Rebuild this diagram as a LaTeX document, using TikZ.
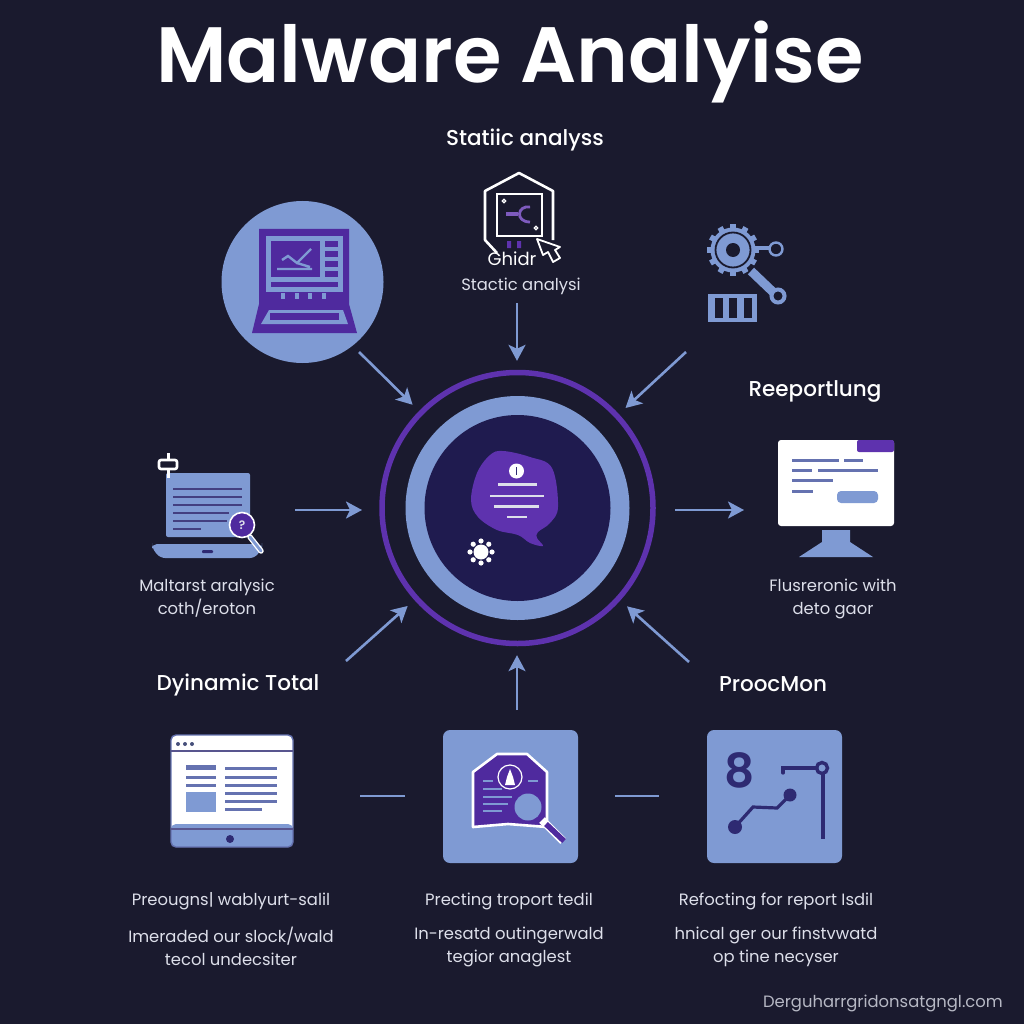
\documentclass[tikz,border=0pt]{standalone}
\usepackage{fontspec}
\setmainfont{Poppins}
\newfontfamily\headfont{Poppins Medium}
\newfontfamily\titlefont{Poppins SemiBold}
\usetikzlibrary{arrows.meta}
\definecolor{bgdark}{HTML}{1A1A2E}
\definecolor{iconblue}{HTML}{7F9AD3}
\definecolor{iconpurple}{HTML}{4F2A9E}
\definecolor{ringpurple}{HTML}{5E32AE}
\definecolor{hubnavy}{HTML}{1F1B4F}
\definecolor{inkblue}{HTML}{2E2A72}
\definecolor{linegrey}{HTML}{6572B0}
\definecolor{softwhite}{HTML}{DDDFEA}
\tikzset{
	flow/.style = {draw=iconblue, line width=2.6pt, -{Stealth[length=16pt,width=17pt,inset=4pt]}},
	link/.style = {draw=iconblue, line width=2.6pt},
	heading/.style = {text=white, font=\headfont\fontsize{21.5}{24}\selectfont, inner sep=0pt, yshift=-1.5pt},
	caption/.style = {text=softwhite, font=\fontsize{16.4}{23}\selectfont, align=center, inner sep=0pt, yshift=-1.5pt},
	card/.style = {fill=iconblue, rounded corners=7pt, minimum width=135pt, minimum height=133pt, inner sep=0pt},
	rule/.style = {line width=3pt, draw=#1},
	rule/.default = linegrey
}
\begin{document}
\begin{tikzpicture}[x=1pt,y=-1pt]
				\useasboundingbox (0,0) rectangle (1024,1024);
				\fill[bgdark] (0,0) rectangle (1024,1024);
				\node (title) [text=white, font=\titlefont\fontsize{78.5}{90}\selectfont, inner sep=0pt] at (510,62){Malware Analyise};
				\node (statichead) [heading] at (525,139){Statiic analyss};
				\node (reporthead) [heading] at (815,390){Reeportlung};
				\node (dynamichead) [heading] at (238,683){Dyinamic Total};
				\node (procmonhead) [heading] at (773,682.5){ProocMon};
				%
				% hub in the middle
				\node (hub) [circle, minimum size=294pt, inner sep=0pt] at (517.5,508){};
				\draw[ringpurple, line width=5.5pt] (hub.center) circle (135.5);
				\fill[iconblue] (hub.center) circle (112);
				\fill[hubnavy] (hub.center) circle (93);
				\fill[ringpurple] plot[smooth cycle, tension=0.6] coordinates {(503,451) (530,457) (552,468) (558,507) (550,523) (538,532) (537,538) (543,546) (530,543) (518,535) (497,530) (478,517) (471,500) (477,473) (490,455)};
				\fill[white] (516.5,471) circle (7.5);
				\draw[inkblue, line width=1.8pt] (516.5,467) -- ++(0,8);
				\draw[softwhite, line width=2.2pt] (498,484.5) -- (537,484.5) (490,496) -- (544,496) (494,506.5) -- (539,506.5) (507,517) -- (527,517);
				\fill[white] (481,552) circle (7.5);
				\foreach \ang in {0,45,...,315}
					\fill[white] (481,552) ++(\ang:11) circle (2.6);
				%
				% laptop on the circle
				\node (laptopdisc) [circle, fill=iconblue, minimum size=162pt, inner sep=0pt] at (302.5,282){};
				\fill[iconpurple] (259,229) -- (349,229) -- (349,304) -- (357,333) -- (252,333) -- (259,304) -- cycle;
				\fill[iconblue] (266,236) rectangle (343,292);
				\fill[iconpurple] (271,241) rectangle (320,277);
				\foreach \rowy in {241,251,261,271}
					\fill[iconpurple] (325,\rowy) rectangle ++(13,6);
				\fill[iconpurple] (271,282) rectangle (338,287);
				\foreach \pipx in {283,297,310,324}
					\fill[iconblue] (\pipx-2.2,293) rectangle ++(4.5,6);
				\fill[iconblue] (269,310) -- (343,310) -- (348,324) -- (261,324) -- cycle;
				\fill[iconpurple] (270,313) rectangle (339,320);
				\draw[iconblue, line width=2.4pt] (277,269) -- (312,269) (311,249) -- (297,263) -- (288,256) -- (282,260) (297,263) -- (310,267);
				%
				% hexagon with chip
				\draw[white, line width=2.6pt, line join=round] (497,253) -- (485,240) -- (485,191) -- (519,173) -- (553,191) -- (553,240);
				\draw[white, line width=2.2pt] (497,194) rectangle (542,236);
				\draw[white, line width=1.2pt] (504,201) circle (1.8) (536,228) circle (1.8);
				\draw[ringpurple!80!white, line width=2.8pt] (530,207) .. controls (517,205) and (515,222) .. (530,222);
				\draw[ringpurple!80!white, line width=3.8pt] (506,214) -- (518,214);
				\fill[ringpurple] (507,241) rectangle ++(4,7) (517,241) rectangle ++(4,7);
				\draw[white, fill=bgdark, line width=1.8pt, line join=round] (537,239) -- (543,255) -- (548,252) -- (553,262) -- (560,258) -- (555,250) -- (560,247) -- cycle;
				\node (ghidra) [text=white, font=\fontsize{18}{20}\selectfont, inner sep=0pt] at (512,259){Ghidr};
				\node (staticcap) [caption] at (521,285){Stactic analysi};
				%
				% gear and wrench
				\foreach \ang in {0,30,...,330}
					\fill[iconblue] (733,250) ++(\ang:21) ++(\ang+90:-2.8) -- ++(\ang:5) -- ++(\ang+90:5.6) -- ++(\ang:-5) -- cycle;
				\fill[iconblue] (733,250) circle (22.5);
				\draw[bgdark, line width=1.8pt] (733,250) circle (17.5);
				\fill[bgdark] (733,250) circle (7);
				\draw[iconblue, line width=3.6pt] (752,248) -- (770,248);
				\draw[iconblue, line width=2.4pt] (776,249) circle (6.5);
				\draw[iconblue, line width=9pt] (751,271) -- (773,292);
				\draw[iconblue, fill=bgdark, line width=4pt] (778,296) circle (6.5);
				\fill[iconblue] (708,294) rectangle (757,322);
				\foreach \slotx in {715,729,744}
					\fill[bgdark] (\slotx,298) rectangle ++(8,20);
				%
				% notebook with magnifier
				\fill[iconblue, rounded corners=2pt] (166,473) rectangle (250,537);
				\foreach \rowy/\rowx in {489/242,497/242,505/242,513/229,521/227,529/201}
					\draw[rule=inkblue!90!white, line width=2.6pt] (173,\rowy) -- (\rowx,\rowy);
				\fill[iconblue, rounded corners=5pt] (152,544) -- (262,544) -- (262,548) -- (255,558) -- (160,558) -- (152,548) -- cycle;
				\fill[inkblue, rounded corners=1pt] (202,550) rectangle (213,553);
				\draw[white, line width=5.5pt, line cap=round] (250,537) -- (261,551);
				\draw[iconblue, line width=2.8pt, line cap=round] (250,537) -- (261,551);
				\draw[white, fill=iconpurple, line width=1.6pt] (242,525) circle (12.5);
				\node (lensmark) [text=softwhite, font=\titlefont\fontsize{12}{12}\selectfont, inner sep=0pt] at (242,525){?};
				\draw[white, line width=3pt] (168,453) -- (168,478);
				\draw[white, fill=bgdark, line width=2.6pt, rounded corners=2pt] (159,460) rectangle (177,469);
				\node (malwarecap) [caption] at (207,597){Maltarst aralysic\\coth/eroton};
				%
				% monitor
				\fill[white, rounded corners=3pt] (778,440) rectangle (894,526);
				\fill[ringpurple, rounded corners=2pt] (857,440) rectangle (894,452);
				\foreach \xa/\xb/\rowy in {792/839/460,844/863/460,792/812/470,818/878/470,792/833/480,792/813/491}
					\draw[rule] (\xa,\rowy) -- (\xb,\rowy);
				\fill[iconblue, rounded corners=4pt] (837,491) rectangle (878,503);
				\fill[iconblue] (822,530) -- (850,530) -- (850,542) -- (873,557) -- (799,557) -- (822,542) -- cycle;
				\node (monitorcap) [caption] at (833,597){Flusreronic with\\deto gaor};
				%
				% browser window
				\fill[white, rounded corners=5pt] (171,735) rectangle (293,832);
				\fill[iconblue, rounded corners=5pt] (171,824) rectangle (293,847);
				\draw[linegrey, line width=1.4pt, rounded corners=5pt] (171,735) rectangle (293,847);
				\draw[inkblue!80!white, line width=2pt] (171,751) -- (293,751) (171,828.5) -- (293,828.5);
				\foreach \dotx in {178,185,192}
					\fill[linegrey!70!black] (\dotx,744) circle (2);
				\fill[inkblue] (230,839) circle (4);
				\fill[linegrey] (186,765) rectangle (216,770);
				\draw[rule] (186,777) -- (216,777) (186,785) -- (216,785);
				\fill[iconblue] (186,792) rectangle (216,812);
				\foreach \rowy in {768,777,785,793,801}
					\draw[rule] (225,\rowy) -- (277,\rowy);
				\draw[rule] (225,809) -- (262,809);
				%
				% report card
				\node (reportcard) [card] at (510.5,796.5){};
				\draw[white, fill=iconpurple, line width=2.6pt, line join=round] (473,772) -- (497,754) -- (527,754) -- (547,772) -- (547,827) -- (508,824) -- (473,827) -- cycle;
				\draw[white, fill=iconpurple, line width=1.2pt] (510,777) circle (12);
				\fill[white] (510,769) -- (513,777) -- (515,785) -- (505,785) -- (507,777) -- cycle;
				\foreach \xa/\xb/\rowy in {483/493/781,528/538/781,483/502/789,483/512/797,483/508/804,483/502/811}
					\draw[iconblue, line width=2pt] (\xa,\rowy) -- (\xb,\rowy);
				\fill[iconblue] (528,807) circle (13.5);
				\draw[white, line width=8pt] (542,820) -- (563,841);
				\draw[iconpurple, line width=5.5pt] (546,824) -- (564,841);
				%
				% chart card
				\node (chartcard) [card] at (774.5,796.5){};
				\node (eight) [text=inkblue, font=\titlefont\fontsize{47}{50}\selectfont, inner sep=0pt] at (740,770){8};
				\draw[inkblue, line width=3.2pt] (735,827) -- (753,807) -- (777,808) -- (790,795);
				\fill[inkblue] (735,827) circle (7) (790,795) circle (6.5);
				\draw[inkblue, line width=3.2pt, line cap=round] (783,773) -- (783,768) -- (817,768);
				\draw[inkblue, line width=3.4pt] (823,774) -- (823,839);
				\draw[inkblue, line width=3.4pt] (822,768) circle (5.5);
				%
				% bottom texts
				\node (browsercap) [caption] at (231,900){Preougns| wablyurt-salil};
				\node (browserdesc) [caption] at (231,945){Imeraded our slock/wald\\tecol undecsiter};
				\node (reportcap) [caption] at (509,900){Precting troport tedil};
				\node (reportdesc) [caption] at (509,945){In-resatd outingerwald\\tegior anaglest};
				\node (chartcap) [caption] at (776,900){Refocting for report Isdil};
				\node (chartdesc) [caption] at (776,945){hnical ger our finstvwatd\\op tine necyser};
				\node (footer) [caption, text=softwhite!80!bgdark, anchor=east] at (1003,1002){Derguharrgridonsatgngl.com};
				%
				% connectors
				\coordinate (tailnorth) at (517,303);
				\coordinate (tailnw) at (359,352);
				\coordinate (tailne) at (686,352);
				\coordinate (tailwest) at (295,510);
				\coordinate (taileast) at (675,510);
				\coordinate (tailsw) at (346,661);
				\coordinate (tailsouth) at (517,710);
				\coordinate (tailse) at (689,662);
				\draw[flow] (tailnorth) -- (tailnorth |- hub.north);
				\draw[flow] (tailnw) -- (hub);
				\draw[flow] (tailne) -- (hub);
				\draw[flow] (tailwest) -- ++(67,0);
				\draw[flow] (taileast) -- ++(69,0);
				\draw[flow] (tailsw) -- (hub);
				\draw[flow] (tailsouth) -- (tailsouth |- hub.south);
				\draw[flow] (tailse) -- (hub);
				\coordinate (gapa) at (360,796);
				\coordinate (gapb) at (405,796);
				\coordinate (gapc) at (615,796);
				\coordinate (gapd) at (659,796);
				\draw[link] (gapa) -- (gapb);
				\draw[link] (gapc) -- (gapd);
			\end{tikzpicture}
\end{document}
